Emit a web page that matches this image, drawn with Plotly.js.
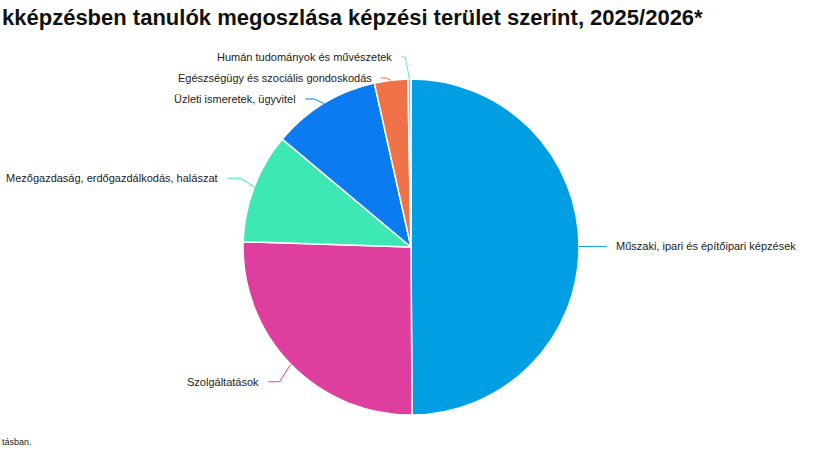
<!DOCTYPE html>
<html>
<head>
<meta charset="utf-8">
<script src="https://cdn.plot.ly/plotly-3.0.1.min.js"></script>
<style>html,body{margin:0;padding:0;background:#fff;}#chart{width:825px;height:450px;}</style>
</head>
<body>
<div id="chart"></div>
<script>
// ---- data ----
const categories = [
  "Műszaki, ipari és építőipari képzések",
  "Szolgáltatások",
  "Mezőgazdaság, erdőgazdálkodás, halászat",
  "Üzleti ismeretek, ügyvitel",
  "Egészségügy és szociális gondoskodás",
  "Humán tudományok és művészetek"
];
const values = [49.9, 25.6, 10.6, 10.4, 3.2, 0.3];
const colors = ["#009FE3", "#DE3F9F", "#3DE8B4", "#0B7BF1", "#F07248", "#6FD3E2"];
const titleText = "kképzésben tanulók megoszlása képzési terület szerint, 2025/2026*";
const footText = "tásban.";

// ---- geometry (pixels) ----
const W = 825, H = 450;
const cx = 411, cy = 247, r = 168;
const labelDist = 25, lineGap = 21, minLabelY = 57;
const px = x => x / W, py = y => (H - y) / H;

const total = values.reduce((a, b) => a + b, 0);
let cum = 0;
const items = values.map((v, i) => {
  const th = 2 * Math.PI * (cum + v / 2) / total;
  cum += v;
  const s = Math.sin(th), c = Math.cos(th);
  return {
    i, s, side: s >= 0 ? 1 : -1,
    ex: cx + r * s, ey: cy - r * c,
    ly: cy - (r + labelDist) * c
  };
});
// simple label overlap avoidance per side
[1, -1].forEach(side => {
  const grp = items.filter(o => o.side === side).sort((a, b) => a.ly - b.ly);
  let prev = -Infinity;
  grp.forEach(o => {
    o.ly = Math.max(o.ly, prev + lineGap, minLabelY);
    prev = o.ly;
  });
});

const annotations = [];
const shapes = [];
items.forEach(o => {
  const lx = o.ex + o.side * (8 + 20 * Math.abs(o.s));
  const crx = (lx + o.ex) / 2;
  shapes.push({
    type: 'path', xref: 'paper', yref: 'paper',
    path: `M ${px(lx)} ${py(o.ly)} L ${px(crx)} ${py(o.ly)} L ${px(o.ex)} ${py(o.ey)}`,
    line: { color: colors[o.i], width: 1 }
  });
  annotations.push({
    xref: 'paper', yref: 'paper',
    x: px(lx + o.side * 7), y: py(o.ly),
    xanchor: o.side > 0 ? 'left' : 'right', yanchor: 'middle',
    text: categories[o.i], showarrow: false,
    font: { family: 'Liberation Sans, Arial, sans-serif', size: 11, color: '#222' }
  });
});
annotations.push({
  xref: 'paper', yref: 'paper', x: 0, y: py(17), xanchor: 'left', yanchor: 'middle',
  text: '<b>' + titleText + '</b>', showarrow: false,
  font: { family: 'Liberation Sans, Arial, sans-serif', size: 22, color: '#111' }
});
annotations.push({
  xref: 'paper', yref: 'paper', x: 0, y: py(442), xanchor: 'left', yanchor: 'middle',
  text: footText, showarrow: false,
  font: { family: 'Liberation Sans, Arial, sans-serif', size: 9, color: '#222' }
});

const trace = {
  type: 'pie',
  labels: categories,
  values: values,
  sort: false,
  direction: 'clockwise',
  rotation: 0,
  textinfo: 'none',
  hoverinfo: 'label+percent',
  marker: { colors: colors, line: { color: '#ffffff', width: 1.5 } },
  domain: { x: [px(cx - r), px(cx + r)], y: [py(cy + r), py(cy - r)] }
};

const layout = {
  width: W, height: H,
  margin: { l: 0, r: 0, t: 0, b: 0 },
  paper_bgcolor: '#fff',
  showlegend: false,
  annotations, shapes
};
Plotly.newPlot('chart', [trace], layout, { displayModeBar: false, staticPlot: true });
</script>
</body>
</html>
